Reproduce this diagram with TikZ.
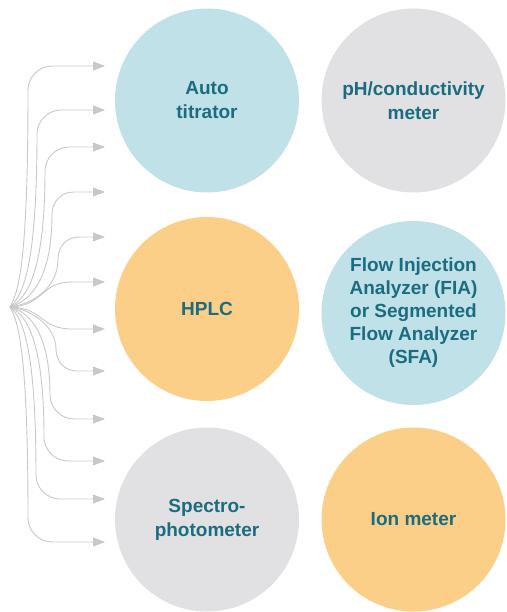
\documentclass[tikz,border=0pt]{standalone}
\usepackage{fontspec}
\usetikzlibrary{arrows.meta,positioning}
\newfontfamily\instfont{Liberation Sans}
\definecolor{instblue}{HTML}{BFE1E7}
\definecolor{instgray}{HTML}{E1E1E3}
\definecolor{instorange}{HTML}{FBCF88}
\definecolor{insttext}{HTML}{1B6C80}
\definecolor{feedgray}{HTML}{C8C8C8}
\tikzset{
  inst/.style={circle,minimum size=184pt,inner sep=0pt,align=center,
    text=insttext,font=\instfont\bfseries\fontsize{19}{24}\selectfont},
  feed/.style={draw=feedgray,line width=0.9pt,
    -{Triangle[length=12pt,width=9pt,fill=feedgray]}}
}
\begin{document}
\begin{tikzpicture}[x=1pt,y=-1pt]
	\useasboundingbox (0,0) rectangle (506,612);
	% instruments
	\node[inst,fill=instblue]   (titrator) at (207,100.5) {Auto\\titrator};
	\node[inst,fill=instgray]   (phmeter)  at (413.5,100.5) {pH/conductivity\\meter};
	\node[inst,fill=instorange] (hplc)     at (207,309) {HPLC};
	\node[inst,fill=instblue,font=\instfont\bfseries\fontsize{19}{23}\selectfont] (fia) at (413.5,313)
		{Flow Injection\\Analyzer (FIA)\\or Segmented\\Flow Analyzer\\(SFA)};
	\node[inst,fill=instgray]   (spectro)  at (207,519.5) {Spectro-\\photometer};
	\node[inst,fill=instorange] (ionmeter) at (413.5,519.5) {Ion meter};
	% sample feed lines
	\coordinate (src) at (10,307);
	\coordinate (in1) at (105,66);
	\coordinate (in2) at (105,110);
	\coordinate (in3) at (105,147);
	\coordinate (in4) at (105,192);
	\coordinate (in5) at (105,237);
	\coordinate (in6) at (105,282);
	\coordinate (in7) at (105,329);
	\coordinate (in8) at (105,371);
	\coordinate (in9) at (105,419);
	\coordinate (in10) at (105,461);
	\coordinate (in11) at (105,499);
	\coordinate (in12) at (105,542);
	\draw[feed] (src) .. controls (18,292) and (28,268) .. (28,90) .. controls (28,77) and (39,66) .. (52,66) -- (in1);
	\draw[feed] (src) .. controls (22,296) and (37,270) .. (37,134) .. controls (37,121) and (48,110) .. (61,110) -- (in2);
	\draw[feed] (src) .. controls (26,299) and (45,274) .. (45,171) .. controls (45,158) and (56,147) .. (69,147) -- (in3);
	\draw[feed] (src) .. controls (30,301) and (52,280) .. (52,214) .. controls (52,202) and (61,192) .. (74,192) -- (in4);
	\draw[feed] (src) .. controls (34,304) and (58,287) .. (58,259) .. controls (58,247) and (66,237) .. (79,237) -- (in5);
	\draw[feed] (src) .. controls (44,306) and (40,282) .. (72,282) -- (in6);
	\draw[feed] (src) .. controls (44,308) and (40,329) .. (72,329) -- (in7);
	\draw[feed] (src) .. controls (34,310) and (56,328) .. (56,349) .. controls (56,361) and (64,371) .. (77,371) -- (in8);
	\draw[feed] (src) .. controls (30,312) and (50,334) .. (50,395) .. controls (50,408) and (61,419) .. (74,419) -- (in9);
	\draw[feed] (src) .. controls (26,314) and (44,340) .. (44,437) .. controls (44,450) and (55,461) .. (68,461) -- (in10);
	\draw[feed] (src) .. controls (22,317) and (36,345) .. (36,475) .. controls (36,488) and (47,499) .. (60,499) -- (in11);
	\draw[feed] (src) .. controls (18,321) and (28,350) .. (28,518) .. controls (28,531) and (39,542) .. (52,542) -- (in12);
\end{tikzpicture}
\end{document}
